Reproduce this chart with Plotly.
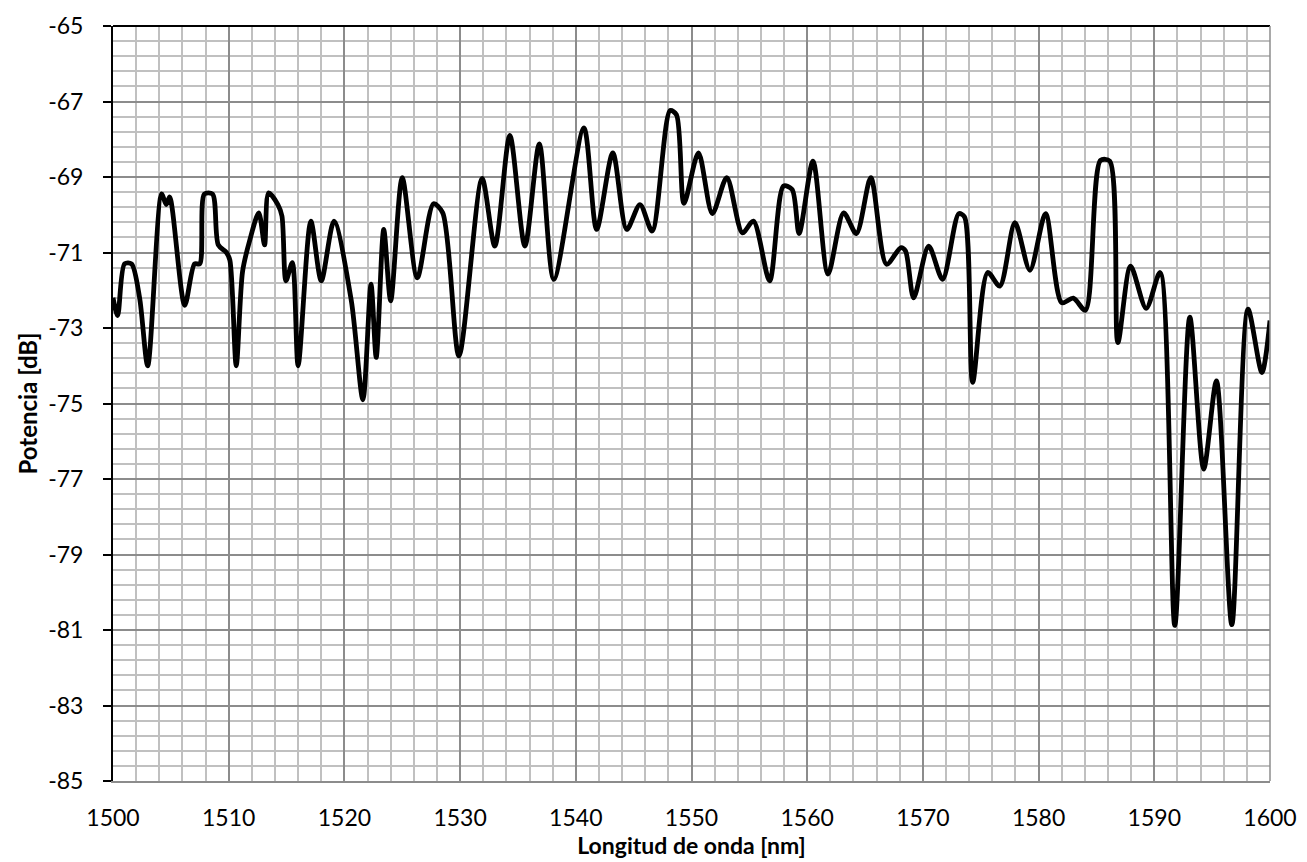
import plotly.graph_objects as go

# Wavelength (nm) and power (dB)
wavelength_nm = [
    1500.0, 1500.4, 1501.0, 1501.6, 1502.3, 1503.0, 1504.2, 1504.6, 1504.9, 1506.2,
    1507.05, 1507.5, 1507.9, 1508.6, 1509.1, 1509.8, 1510.1, 1510.65, 1511.2, 1511.8,
    1512.6, 1513.1, 1513.45, 1514.25, 1514.6, 1514.95, 1515.5, 1516.0, 1517.1, 1518.0,
    1519.1, 1520.6, 1521.6, 1522.3, 1522.75, 1523.4, 1524.0, 1525.0, 1526.3, 1527.7,
    1528.5, 1529.9, 1531.9, 1533.0, 1534.3, 1535.6, 1536.85, 1538.1, 1540.7, 1541.8,
    1543.2, 1544.4, 1545.55, 1546.6, 1548.15, 1548.7, 1549.35, 1550.6, 1551.8, 1553.05,
    1554.4, 1555.35, 1556.75, 1557.95, 1558.7, 1559.3, 1560.5, 1561.8, 1563.15, 1564.25,
    1565.5, 1566.85, 1568.1, 1568.5, 1569.2, 1570.5, 1571.7, 1573.1, 1573.6, 1574.3,
    1575.6, 1576.65, 1577.95, 1579.25, 1580.6, 1582.0, 1583.0, 1584.05, 1585.35, 1586.15,
    1586.85, 1587.95, 1589.3, 1590.5, 1591.77, 1593.07, 1594.27, 1595.37, 1596.7, 1598.1,
    1599.3, 1600.0,
]
power_db = [
    -72.2, -72.67, -71.3, -71.3, -72.2, -74.0, -69.45, -69.73, -69.53, -72.4,
    -71.3, -71.3, -69.45, -69.45, -70.8, -71.0, -71.2, -74.0, -71.5, -70.7,
    -69.95, -70.8, -69.42, -69.73, -70.03, -71.75, -71.27, -74.0, -70.17, -71.75,
    -70.17, -72.28, -74.9, -71.84, -73.78, -70.39, -72.28, -69.02, -71.67, -69.71,
    -69.95, -73.74, -69.04, -70.83, -67.9, -70.83, -68.12, -71.71, -67.7, -70.39,
    -68.36, -70.39, -69.73, -70.43, -67.24, -67.35, -69.7, -68.36, -69.97, -69.02,
    -70.48, -70.17, -71.75, -69.24, -69.33, -70.5, -68.58, -71.57, -69.95, -70.5,
    -69.02, -71.31, -70.87, -70.96, -72.2, -70.83, -71.71, -69.97, -70.06, -74.44,
    -71.53, -71.89, -70.21, -71.47, -69.97, -72.33, -72.21, -72.53, -68.56, -68.58,
    -73.39, -71.36, -72.48, -71.53, -80.88, -72.71, -76.74, -74.4, -80.86, -72.5,
    -74.18, -72.8,
]

x_tick_vals = [1500, 1510, 1520, 1530, 1540, 1550, 1560, 1570, 1580, 1590, 1600]
x_tick_text = ["1500", "1510", "1520", "1530", "1540", "1550", "1560", "1570", "1580", "1590", "1600"]
y_tick_vals = [-85, -83, -81, -79, -77, -75, -73, -71, -69, -67, -65]
y_tick_text = ["-85", "-83", "-81", "-79", "-77", "-75", "-73", "-71", "-69", "-67", "-65"]

x_title = "Longitud de onda [nm]"
y_title = "Potencia [dB]"

FONT = "Lato"
MAJOR_GRID = "#8C8C8C"
MINOR_GRID = "#C0C0C0"

fig = go.Figure()
fig.add_trace(go.Scatter(
    x=wavelength_nm, y=power_db, mode="lines",
    line=dict(color="black", width=4.8, shape="spline", smoothing=0.8),
    showlegend=False, hoverinfo="x+y",
))

fig.update_layout(
    width=1307, height=862,
    margin=dict(l=105, r=45, t=18, b=89),
    plot_bgcolor="white", paper_bgcolor="white",
    font=dict(family=FONT, size=23, color="black"),
    xaxis=dict(
        range=[1500, 1600], tickvals=x_tick_vals, ticktext=x_tick_text,
        showgrid=True, gridcolor=MAJOR_GRID, gridwidth=1.5,
        minor=dict(dtick=2, tick0=1500, showgrid=True, gridcolor=MINOR_GRID, gridwidth=1.5),
        showline=True, linecolor=MAJOR_GRID, linewidth=1.5,
        ticks="", ticklabelstandoff=16, zeroline=False, automargin=False,
        title=dict(text=x_title, font=dict(family=FONT, size=23, color="black", weight="bold"), standoff=6),
    ),
    yaxis=dict(
        range=[-85, -65], tickvals=y_tick_vals, ticktext=y_tick_text,
        showgrid=True, gridcolor=MAJOR_GRID, gridwidth=1.5,
        minor=dict(dtick=0.4, tick0=-85, showgrid=True, gridcolor=MINOR_GRID, gridwidth=1.5),
        showline=True, linecolor="black", linewidth=2,
        ticks="outside", ticklen=8, tickcolor="black", tickwidth=2,
        ticklabelstandoff=15, zeroline=False, automargin=False,
        title=dict(text=y_title, font=dict(family=FONT, size=24, color="black", weight="bold"), standoff=4),
    ),
)

# top border line and right border line of the plot area
fig.add_shape(type="line", xref="paper", yref="paper", x0=0, x1=1, y0=1, y1=1,
              line=dict(color="black", width=2))
fig.add_shape(type="line", xref="paper", yref="paper", x0=1, x1=1, y0=0, y1=1,
              line=dict(color=MAJOR_GRID, width=1.5))

fig.write_html("out.html")
